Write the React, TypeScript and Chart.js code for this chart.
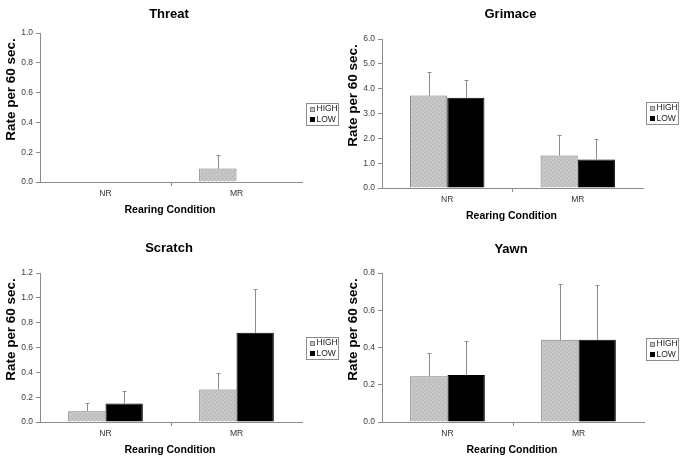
import React, { useEffect, useRef } from "react";
import { Chart, registerables } from "chart.js";

Chart.register(...registerables);

const categories = ["NR", "MR"];
const seriesNames = ["HIGH", "LOW"];

const threatHigh = [0, 0.09];
const threatHighErr = [0, 0.09];
const threatLow = [0, 0];
const threatLowErr = [0, 0];

const grimaceHigh = [3.72, 1.31];
const grimaceHighErr = [0.95, 0.84];
const grimaceLow = [3.63, 1.15];
const grimaceLowErr = [0.7, 0.84];

const scratchHigh = [0.087, 0.262];
const scratchHighErr = [0.062, 0.135];
const scratchLow = [0.149, 0.718];
const scratchLowErr = [0.097, 0.353];

const yawnHigh = [0.246, 0.441];
const yawnHighErr = [0.123, 0.302];
const yawnLow = [0.252, 0.441];
const yawnLowErr = [0.183, 0.296];

const yTitle = "Rate per 60 sec.";
const xTitle = "Rearing Condition";

const FONT = "'Liberation Sans', Arial, sans-serif";

function makePattern(): CanvasPattern | string {
  const c = document.createElement("canvas");
  c.width = 4;
  c.height = 4;
  const g = c.getContext("2d");
  if (!g) return "#c0c0c0";
  g.fillStyle = "#c4c4c4";
  g.fillRect(0, 0, 4, 4);
  g.fillStyle = "#b2b2b2";
  g.fillRect(0, 0, 1, 1);
  g.fillRect(2, 2, 1, 1);
  g.fillStyle = "#d0d0d0";
  g.fillRect(2, 0, 1, 1);
  g.fillRect(0, 2, 1, 1);
  const p = g.createPattern(c, "repeat");
  return p || "#c0c0c0";
}

type PanelProps = {
  x0: number;
  y0: number;
  w: number;
  h: number;
  area: { left: number; right: number; top: number; bottom: number };
  title: string;
  titleY: number;
  max: number;
  step: number;
  legendTop: number;
  high: number[];
  highErr: number[];
  low: number[];
  lowErr: number[];
};

function Panel(props: PanelProps) {
  const ref = useRef<HTMLCanvasElement | null>(null);
  useEffect(() => {
    if (!ref.current) return;
    const pattern = makePattern();
    const { area, w, h } = props;
    const errs = [props.highErr, props.lowErr];

    const overlay = {
      id: "overlay",
      afterDatasetsDraw(chart: any) {
        const ctx = chart.ctx;
        const ys = chart.scales.y;
        ctx.save();
        ctx.strokeStyle = "#8c8c8c";
        ctx.lineWidth = 1;
        chart.data.datasets.forEach((ds: any, di: number) => {
          const meta = chart.getDatasetMeta(di);
          meta.data.forEach((bar: any, i: number) => {
            const e = errs[di][i];
            if (!e) return;
            const v = ds.data[i];
            const yTop = Math.round(ys.getPixelForValue(v + e)) + 0.5;
            const yBar = ys.getPixelForValue(v);
            const x = Math.round(bar.x) + 0.5;
            ctx.beginPath();
            ctx.moveTo(x, yBar);
            ctx.lineTo(x, yTop);
            ctx.moveTo(x - 2, yTop);
            ctx.lineTo(x + 2, yTop);
            ctx.stroke();
          });
        });
        ctx.restore();
      },
      afterDraw(chart: any) {
        const ctx = chart.ctx;
        const ca = chart.chartArea;
        ctx.save();
        ctx.fillStyle = "#000";
        ctx.font = `bold 13px ${FONT}`;
        ctx.textAlign = "center";
        ctx.textBaseline = "middle";
        ctx.fillText(props.title, (ca.left + ca.right) / 2 - 2, props.titleY);
        ctx.font = `bold 10.5px ${FONT}`;
        ctx.fillText(xTitle, (ca.left + ca.right) / 2 - 1, ca.bottom + 28);
        ctx.save();
        ctx.translate(ca.left - 28, (ca.top + ca.bottom) / 2 - 18);
        ctx.rotate(-Math.PI / 2);
        ctx.scale(1.12, 1);
        ctx.font = `bold 12px ${FONT}`;
        ctx.fillText(yTitle, 0, 0);
        ctx.restore();
        const lx = 306.5;
        const lt = props.legendTop + 0.5;
        ctx.fillStyle = "#fff";
        ctx.fillRect(lx, lt, 32, 22);
        ctx.strokeStyle = "#8c8c8c";
        ctx.lineWidth = 1;
        ctx.strokeRect(lx, lt, 32, 22);
        const rows = [
          { name: seriesNames[0], fill: pattern, border: "#808080", cy: props.legendTop + 6 },
          { name: seriesNames[1], fill: "#000", border: "#000", cy: props.legendTop + 16.5 },
        ];
        ctx.font = `8.5px ${FONT}`;
        ctx.textAlign = "left";
        rows.forEach((r) => {
          ctx.fillStyle = r.fill as any;
          ctx.fillRect(310, Math.round(r.cy - 2.5), 5, 5);
          ctx.strokeStyle = r.border;
          ctx.strokeRect(310.5, Math.round(r.cy - 2.5) + 0.5, 4, 4);
          ctx.fillStyle = "#222";
          ctx.fillText(r.name, 316.5, r.cy);
        });
        ctx.restore();
      },
    };

    const chart = new Chart(ref.current, {
      type: "bar",
      data: {
        labels: categories,
        datasets: [
          {
            label: seriesNames[0],
            data: props.high,
            backgroundColor: pattern as any,
            borderColor: "#7a7a7a",
            borderWidth: 1,
            barPercentage: 1,
            categoryPercentage: 0.57,
          },
          {
            label: seriesNames[1],
            data: props.low,
            backgroundColor: "#000",
            borderColor: "#000",
            borderWidth: 1,
            barPercentage: 1,
            categoryPercentage: 0.57,
          },
        ],
      },
      options: {
        animation: false,
        responsive: false,
        devicePixelRatio: 1,
        layout: {
          padding: { left: 0, top: area.top, right: w - area.right, bottom: 0 },
        },
        plugins: {
          legend: { display: false },
          title: { display: false },
          tooltip: { enabled: false },
        },
        scales: {
          x: {
            grid: {
              display: true,
              offset: true,
              drawOnChartArea: false,
              drawTicks: true,
              tickLength: 4,
              color: (c: any) => (c.index === 1 ? "#8c8c8c" : "rgba(0,0,0,0)"),
            },
            border: { display: true, color: "#8c8c8c" },
            ticks: {
              font: { family: FONT, size: 8.5 },
              color: "#333",
              padding: 3,
              maxRotation: 0,
            },
            afterFit(scale: any) {
              scale.height = h - area.bottom;
            },
          },
          y: {
            min: 0,
            max: props.max,
            grid: {
              display: true,
              drawOnChartArea: false,
              drawTicks: true,
              tickLength: 4,
              color: "#8c8c8c",
            },
            border: { display: true, color: "#8c8c8c" },
            ticks: {
              stepSize: props.step,
              font: { family: FONT, size: 8.5 },
              color: "#404040",
              padding: 3,
              callback: (v: any) => Number(v).toFixed(1),
            },
            afterFit(scale: any) {
              scale.width = area.left;
            },
          },
        },
      },
      plugins: [overlay],
    });
    return () => chart.destroy();
  }, []);

  return (
    <div
      style={{
        position: "absolute",
        left: props.x0,
        top: props.y0,
        width: props.w,
        height: props.h,
      }}
    >
      <canvas ref={ref} width={props.w} height={props.h} style={{ display: "block" }} />
    </div>
  );
}

export default function App() {
  return (
    <div
      style={{
        position: "absolute",
        left: 0,
        top: 0,
        width: 685,
        height: 459,
        background: "#fff",
        overflow: "hidden",
      }}
    >
      <Panel
        x0={0}
        y0={0}
        w={340}
        h={230}
        area={{ left: 40, right: 302, top: 33, bottom: 182 }}
        title="Threat"
        titleY={14}
        max={1}
        step={0.2}
        legendTop={103}
        high={threatHigh}
        highErr={threatHighErr}
        low={threatLow}
        lowErr={threatLowErr}
      />
      <Panel
        x0={340}
        y0={0}
        w={345}
        h={230}
        area={{ left: 42, right: 303, top: 39, bottom: 188 }}
        title="Grimace"
        titleY={14}
        max={6}
        step={1}
        legendTop={102}
        high={grimaceHigh}
        highErr={grimaceHighErr}
        low={grimaceLow}
        lowErr={grimaceLowErr}
      />
      <Panel
        x0={0}
        y0={230}
        w={340}
        h={229}
        area={{ left: 40, right: 302, top: 43, bottom: 192 }}
        title="Scratch"
        titleY={18}
        max={1.2}
        step={0.2}
        legendTop={107}
        high={scratchHigh}
        highErr={scratchHighErr}
        low={scratchLow}
        lowErr={scratchLowErr}
      />
      <Panel
        x0={340}
        y0={230}
        w={345}
        h={229}
        area={{ left: 42, right: 304, top: 43, bottom: 192 }}
        title="Yawn"
        titleY={19}
        max={0.8}
        step={0.2}
        legendTop={108}
        high={yawnHigh}
        highErr={yawnHighErr}
        low={yawnLow}
        lowErr={yawnLowErr}
      />
    </div>
  );
}
